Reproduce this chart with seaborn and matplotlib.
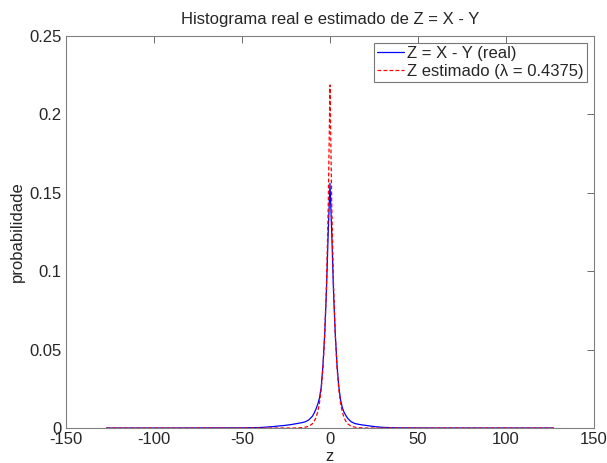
import numpy as np
import pandas as pd
import matplotlib
matplotlib.use('Agg')
import matplotlib.pyplot as plt
import seaborn as sns

# valores
z_real = [-127, -90, -60, -50, -45, -40, -37, -35, -32, -30, -28, -26, -24, -22, -20,
          -18, -16, -14, -12, -10, -9, -8, -7, -6, -5, -4, -3, -2, -1, 0,
          1, 2, 3, 4, 5, 6, 7, 8, 9, 10, 12, 14, 16, 18, 20, 22, 24, 26,
          28, 30, 35, 40, 60, 90, 127]
p_real = [0.0000, 0.0000, 0.0001, 0.0001, 0.0002, 0.0003, 0.0005, 0.0007, 0.0009, 0.0012,
          0.0014, 0.0016, 0.0019, 0.0022, 0.0026, 0.0030, 0.0034, 0.0040, 0.0052, 0.0075,
          0.0095, 0.0120, 0.0150, 0.0190, 0.0260, 0.0400, 0.0600, 0.0880, 0.1250, 0.1560,
          0.1240, 0.0870, 0.0600, 0.0400, 0.0265, 0.0180, 0.0130, 0.0100, 0.0080, 0.0062,
          0.0040, 0.0029, 0.0024, 0.0020, 0.0017, 0.0014, 0.0011, 0.0008, 0.0006, 0.0004,
          0.0002, 0.0001, 0.0000, 0.0000, 0.0000]

z_est = [-127, -40, -30, -25, -20, -15, -12, -10, -9, -8, -7, -6, -5, -4, -3, -2, -1, 0,
         1, 2, 3, 4, 5, 6, 7, 8, 9, 10, 12, 15, 20, 25, 30, 40, 127]
p_est = [0.0000, 0.0000, 0.0000, 0.0000, 0.0000, 0.0003, 0.0011, 0.0027, 0.0043, 0.0066,
         0.0102, 0.0158, 0.0246, 0.0381, 0.0591, 0.0915, 0.1417, 0.2188,
         0.1417, 0.0915, 0.0591, 0.0381, 0.0246, 0.0158, 0.0102, 0.0066, 0.0043, 0.0027,
         0.0011, 0.0003, 0.0000, 0.0000, 0.0000, 0.0000, 0.0000]

x_ticks = [-150, -100, -50, 0, 50, 100, 150]
y_ticks = [0, 0.05, 0.1, 0.15, 0.2, 0.25]
y_labels = ['0', '0.05', '0.1', '0.15', '0.2', '0.25']

sns.set_style('white')
plt.rcParams['font.family'] = ['Liberation Sans', 'DejaVu Sans']

df_real = pd.DataFrame({'z': z_real, 'p': p_real})
df_est = pd.DataFrame({'z': z_est, 'p': p_est})

fig = plt.figure(figsize=(6.07, 4.63), dpi=100)
ax = fig.add_axes([0.1087, 0.0756, 0.8699, 0.8466])

sns.lineplot(data=df_real, x='z', y='p', ax=ax, color='blue', linewidth=0.9,
             label='Z = X - Y (real)')
sns.lineplot(data=df_est, x='z', y='p', ax=ax, color='red', linewidth=0.9,
             label='Z estimado (λ = 0.4375)')
ax.lines[1].set_dashes([3, 1.8])

ax.set_xlim(-150, 150)
ax.set_ylim(0, 0.25)
ax.set_xticks(x_ticks)
ax.set_xticklabels([str(t) for t in x_ticks])
ax.set_yticks(y_ticks)
ax.set_yticklabels(y_labels)
ax.tick_params(direction='in', length=5, width=0.6, color='#555555',
               top=True, right=True, labelsize=12, pad=3)
for s in ax.spines.values():
    s.set_visible(True)
    s.set_color('#808080')
    s.set_linewidth(0.8)

ax.set_title('Histograma real e estimado de Z = X - Y', fontsize=12, pad=9)
ax.set_xlabel('z', fontsize=12, labelpad=1)
ax.set_ylabel('probabilidade', fontsize=12, labelpad=3)

leg = ax.legend(loc='upper right', fontsize=12, frameon=True, fancybox=False,
                handlelength=1.6, handletextpad=0.2, borderpad=0.2,
                labelspacing=0.15, borderaxespad=0.4)
leg.get_frame().set_edgecolor('#555555')
leg.get_frame().set_linewidth(0.8)

fig.savefig('out.png', dpi=100)
